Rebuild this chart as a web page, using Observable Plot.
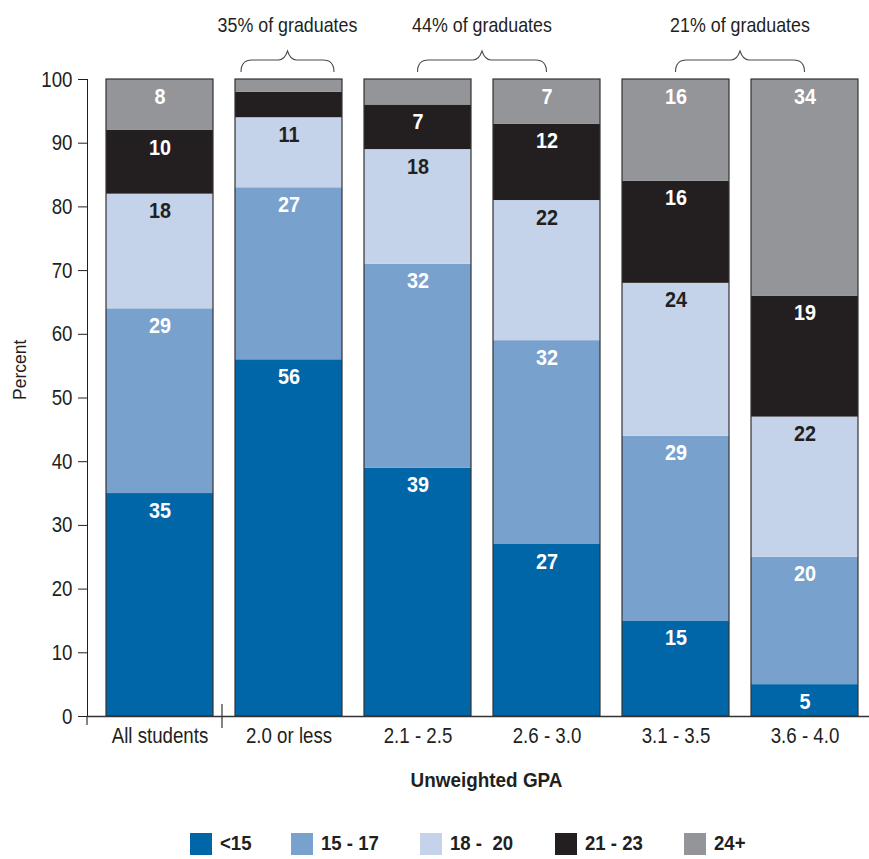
<!DOCTYPE html>
<html>
<head>
<meta charset="utf-8">
<script src="https://cdn.jsdelivr.net/npm/d3@7"></script>
<script src="https://cdn.jsdelivr.net/npm/@observablehq/plot@0.6"></script>
<style>
  html, body { margin: 0; padding: 0; background: #fff; }
  body { width: 869px; height: 859px; overflow: hidden; font-family: "Liberation Sans", Arial, sans-serif; color: #231f20; }
  #chart svg { display: block; }
  #legend { display: flex; align-items: center; margin-left: 190px; margin-top: 12px; }
  .item { display: flex; align-items: center; margin-right: 41px; }
  .sw { width: 22px; height: 22px; margin-right: 8px; flex: none; }
  .lab { font-weight: bold; font-size: 20px; white-space: pre; display: inline-block; transform: scaleX(0.93); transform-origin: left center; margin-right: -4px; }
</style>
</head>
<body>
<div id="chart"></div>
<div id="legend"></div>
<script>
const categories = ["All students", "2.0 or less", "2.1 - 2.5", "2.6 - 3.0", "3.1 - 3.5", "3.6 - 4.0"];
const groups = ["<15", "15 - 17", "18 -  20", "21 - 23", "24+"];
const colors = ["#0066a8", "#78a1ce", "#c4d3ea", "#231f20", "#939598"];
const labelDark = [false, false, true, false, false];

const lt15   = [35, 56, 39, 27, 15, 5];
const s15_17 = [29, 27, 32, 32, 29, 20];
const s18_20 = [18, 11, 18, 22, 24, 22];
const s21_23 = [10, 4, 7, 12, 16, 19];
const s24    = [8, 2, 4, 7, 16, 34];
const series = [lt15, s15_17, s18_20, s21_23, s24];

const yTicks = [0, 10, 20, 30, 40, 50, 60, 70, 80, 90, 100];

const braceLabels = ["35% of graduates", "44% of graduates", "21% of graduates"];
const braceFrom = ["2.0 or less", "2.1 - 2.5", "3.1 - 3.5"];
const braceTo = ["2.0 or less", "2.6 - 3.0", "3.6 - 4.0"];

const FONT = '"Liberation Sans", Arial, sans-serif';
const INK = "#231f20";

// build stacked rows
const rows = [];
categories.forEach((cat, i) => {
  let acc = 0;
  series.forEach((s, j) => {
    const v = s[i];
    rows.push({cat, group: groups[j], value: v, y1: acc, y2: acc + v, dark: labelDark[j]});
    acc += v;
  });
});
const totals = categories.map((cat, i) => ({cat, total: d3.sum(series, s => s[i])}));

function braces(index, scales, values, dimensions) {
  const x = scales.x, y = scales.y;
  const bw = x.bandwidth();
  const g = d3.create("svg:g");
  const top = y(100);
  // small extension of the y axis below zero
  const ml = dimensions && dimensions.marginLeft != null ? dimensions.marginLeft : 87;
  g.append("line").attr("x1", ml).attr("x2", ml).attr("y1", y(0)).attr("y2", y(0) + 9)
    .attr("stroke", "#333").attr("stroke-width", 1.2);
  braceLabels.forEach((label, k) => {
    let x0, x1;
    if (braceFrom[k] === braceTo[k]) {
      x0 = x(braceFrom[k]) + 6;
      x1 = x(braceTo[k]) + bw - 8;
    } else {
      x0 = x(braceFrom[k]) + bw / 2;
      x1 = x(braceTo[k]) + bw / 2;
    }
    const cx = (x0 + x1) / 2;
    const yb = top - 7, yh = top - 19, yp = top - 28;
    const p = d3.path();
    p.moveTo(x0, yb);
    p.quadraticCurveTo(x0, yh, x0 + 11, yh);
    p.lineTo(cx - 9, yh);
    p.quadraticCurveTo(cx - 3, yh, cx, yp);
    p.quadraticCurveTo(cx + 3, yh, cx + 9, yh);
    p.lineTo(x1 - 11, yh);
    p.quadraticCurveTo(x1, yh, x1, yb);
    g.append("path").attr("d", p.toString()).attr("fill", "none")
      .attr("stroke", "#4a4a4a").attr("stroke-width", 1.1);
    g.append("text").attr("x", cx).attr("y", top - 47).attr("text-anchor", "middle")
      .attr("font-size", 21).attr("fill", INK)
      .attr("font-family", FONT).text(label);
  });
  return g.node();
}

const chart = Plot.plot({
  width: 869,
  height: 820,
  marginLeft: 87,
  marginRight: 0,
  marginTop: 79,
  marginBottom: 104,
  style: {fontFamily: FONT, fontSize: "22px", color: INK, background: "white"},
  x: {domain: categories, paddingInner: 0.174, paddingOuter: 0.104, align: 0.63, label: null, tickSize: 0, tickPadding: 11},
  y: {domain: [0, 100], ticks: yTicks, tickSize: 9, tickPadding: 6, label: null, line: true, tickFormat: d => String(d)},
  color: {domain: groups, range: colors},
  marks: [
    Plot.barY(rows, {x: "cat", y1: "y1", y2: "y2", fill: "group"}),
    Plot.barY(totals, {x: "cat", y1: 0, y2: "total", fill: "none", stroke: "#333", strokeWidth: 1.2}),
    Plot.text(rows.filter(d => d.value >= 5 && !d.dark), {x: "cat", y: "y2", dy: 17, text: d => String(d.value), fill: "white", fontWeight: "bold", fontSize: 22}),
    Plot.text(rows.filter(d => d.value >= 5 && d.dark), {x: "cat", y: "y2", dy: 17, text: d => String(d.value), fill: INK, fontWeight: "bold", fontSize: 22}),
    Plot.ruleY([0], {stroke: "#333", strokeWidth: 1.5}),
    Plot.ruleX([categories[0]], {dx: 62, y1: -1.9, y2: 1.9, stroke: "#333", strokeWidth: 1.2}),
    Plot.text(["Unweighted GPA"], {frameAnchor: "bottom", dx: 8, dy: 70, fontWeight: "bold", fontSize: 21, fill: INK}),
    Plot.text(["Percent"], {frameAnchor: "left", dx: -67, dy: 2, rotate: -90, fontSize: 17.5, fill: INK}),
    braces
  ]
});
document.getElementById("chart").appendChild(chart);

// condense horizontal text to mimic a condensed typeface
const SVGNS = "http://www.w3.org/2000/svg";
chart.querySelectorAll("text").forEach(t => {
  if (t.textContent === "Percent") return;
  const cs = getComputedStyle(t);
  const bold = cs.fontWeight === "bold" || parseInt(cs.fontWeight) >= 600;
  const s = bold ? 0.9 : 0.85;
  const g = document.createElementNS(SVGNS, "g");
  t.parentNode.insertBefore(g, t);
  g.appendChild(t);
  const b = g.getBBox();
  const a = cs.textAnchor;
  const ox = a === "start" ? b.x : a === "end" ? b.x + b.width : b.x + b.width / 2;
  g.setAttribute("transform", `translate(${ox},0) scale(${s},1) translate(${-ox},0)`);
});

const legend = d3.select("#legend");
groups.forEach((g, j) => {
  const it = legend.append("div").attr("class", "item");
  it.append("div").attr("class", "sw").style("background", colors[j]);
  it.append("span").attr("class", "lab").text(g);
});
</script>
</body>
</html>
